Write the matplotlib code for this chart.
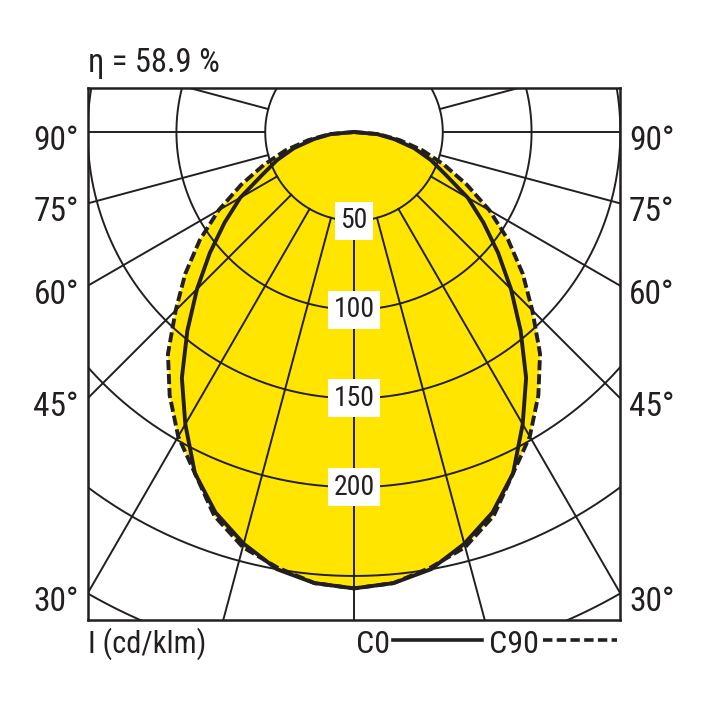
import numpy as np
import matplotlib
matplotlib.use('Agg')
import matplotlib.pyplot as plt
from matplotlib.lines import Line2D
from matplotlib import font_manager
from matplotlib.font_manager import FontProperties

# ---------------- data ----------------
angles = [0, 5, 10, 15, 20, 25, 30, 35, 40, 45, 50, 55, 60, 65, 70, 75, 80, 85, 90]
c0 = [257, 255, 250, 240, 228, 212, 190, 169, 146, 125, 106, 89, 74, 57, 46, 35, 23, 13, 0]
c90 = [257, 255, 249, 242, 230, 212, 198, 181, 163, 142, 124, 106, 88, 70, 54, 40, 26, 14, 0]
grid_radii = [50, 100, 150, 200, 250, 300, 350]
labelled_radii = [50, 100, 150, 200]
spoke_angles = list(range(0, 360, 15))
side_angles = [90, 75, 60, 45, 30]
eta_text = "η = 58.9 %"
unit_label = "I (cd/klm)"
series_names = ["C0", "C90"]

# ---------------- font choice (narrow sans if present) ----------------
def pick_font():
    entries = font_manager.fontManager.ttflist
    def ok(f):
        return f.style == 'normal' and (f.weight in (400, 'normal', 'regular', 'book'))
    prefs = ['Liberation Sans Narrow', 'Roboto Condensed', 'Open Sans Condensed',
             'Noto Sans Condensed', 'Arial Narrow']
    for p in prefs:
        for f in entries:
            if f.name == p and ok(f):
                return f.fname
    for f in entries:
        n = f.name.lower()
        if ('narrow' in n or 'condensed' in n) and 'dejavu' not in n and 'mono' not in n \
                and 'serif' not in n and ok(f):
            return f.fname
    for f in entries:
        if f.name in ('Noto Sans', 'Roboto', 'Open Sans') and f.stretch in ('condensed', 'semi-condensed') and ok(f):
            return f.fname
    for f in entries:
        if f.name == 'Liberation Sans' and ok(f):
            return f.fname
    return None


FPATH = pick_font()


def fp(size):
    if FPATH:
        return FontProperties(fname=FPATH, size=size)
    return FontProperties(family='DejaVu Sans', size=size)


INK = '#231f20'
YELLOW = '#ffe500'

W = H = 708
fig = plt.figure(figsize=(7.08, 7.08), dpi=100)
fig.patch.set_facecolor('white')


def fx(px):
    return px / W


def fy(py):
    return 1 - py / H


ax = fig.add_axes([fx(88), fy(620), 532 / W, 532 / H])
XL = 149.8
ax.set_xlim(-XL, XL)
ax.set_ylim(-274.8, 24.8)
ax.set_aspect('equal')
ax.set_xticks([])
ax.set_yticks([])
for s in ax.spines.values():
    s.set_linewidth(1.8)
    s.set_color(INK)
    s.set_zorder(10)


def curve(vals):
    th = np.radians(np.array(angles, dtype=float))
    r = np.array(vals, dtype=float)
    th_full = np.concatenate([-th[::-1], th[1:]])
    r_full = np.concatenate([r[::-1], r[1:]])
    return r_full * np.sin(th_full), -r_full * np.cos(th_full)


x0, y0 = curve(c0)
x90, y90 = curve(c90)

ax.fill(x90, y90, color=YELLOW, lw=0, zorder=1)
ax.fill(x0, y0, color=YELLOW, lw=0, zorder=1)

t = np.linspace(0, 2 * np.pi, 721)
for r in grid_radii:
    ax.plot(r * np.sin(t), -r * np.cos(t), color=INK, lw=1.4, zorder=2)
for a in spoke_angles:
    ar = np.radians(a)
    ax.plot([50 * np.sin(ar), 600 * np.sin(ar)], [-50 * np.cos(ar), -600 * np.cos(ar)],
            color=INK, lw=1.4, zorder=2)

ax.plot(x0, y0, color=INK, lw=2.8, zorder=3, solid_joinstyle='round')
ax.plot(x90, y90, color=INK, lw=2.8, zorder=3, linestyle=(0, (2.6, 1.0)))

for r in labelled_radii:
    ax.text(0, -r, str(r), ha='center', va='center', fontproperties=fp(20), color=INK, zorder=6,
            bbox=dict(boxstyle='square,pad=0.2', fc='white', ec='none'))

for a in side_angles:
    yh = -XL / np.tan(np.radians(a)) if a != 90 else 0.0
    ax.annotate(f"{a}°", xy=(-XL, yh), xytext=(-9 * 0.72, -18 * 0.72), textcoords='offset points',
                ha='right', va='baseline', fontproperties=fp(24), color=INK, annotation_clip=False)
    ax.annotate(f"{a}°", xy=(XL, yh), xytext=(9 * 0.72, -18 * 0.72), textcoords='offset points',
                ha='left', va='baseline', fontproperties=fp(24), color=INK, annotation_clip=False)

fig.text(fx(88), fy(72), eta_text, ha='left', va='baseline', fontproperties=fp(23.5), color=INK)
fig.text(fx(88), fy(653), unit_label, ha='left', va='baseline', fontproperties=fp(22), color=INK)
fig.text(fx(390), fy(653), series_names[0], ha='right', va='baseline', fontproperties=fp(23), color=INK)
fig.text(fx(539), fy(653), series_names[1], ha='right', va='baseline', fontproperties=fp(23), color=INK)
fig.add_artist(Line2D([fx(393), fx(482)], [fy(640), fy(640)], color=INK, lw=2.6))
fig.add_artist(Line2D([fx(543), fx(617)], [fy(640), fy(640)], color=INK, lw=2.6,
                      linestyle=(0, (2.6, 1.2))))

fig.savefig('out.png', dpi=100, facecolor='white')
